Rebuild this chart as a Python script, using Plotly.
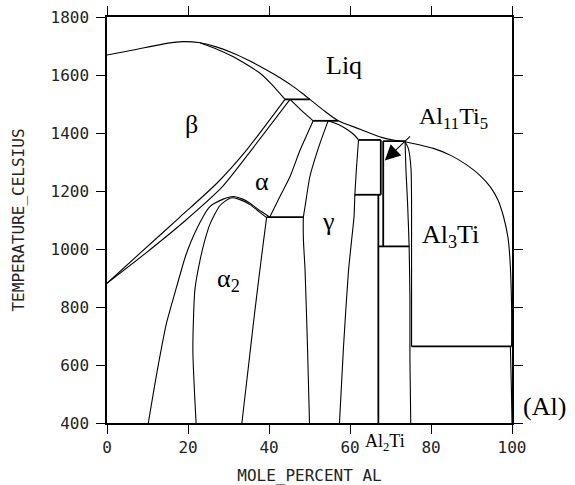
import plotly.graph_objects as go

# ---------------- data (mole % Al, temperature in Celsius) ----------------
liquidus_ti_x = [0, 6.5, 14.7, 18.8, 23.0, 27.0, 31.2, 35.3, 39.4, 43.0, 46.0, 48.2, 50.1]
liquidus_ti_t = [1669, 1686, 1709, 1715, 1711, 1697, 1675, 1648, 1617, 1588, 1560, 1537, 1516]

beta_solidus_x = [23.0, 27.0, 31.2, 34.5, 37.8, 40.5, 43.95]
beta_solidus_t = [1710, 1690, 1663, 1636, 1606, 1570, 1516]

beta_transus_x = [0, 8.5, 18.0, 27.0, 34.5, 43.95]
beta_transus_t = [882, 990, 1110, 1225, 1342, 1516]

alpha_beta_x = [0, 9.5, 19.5, 28.5, 35.7, 45.2]
alpha_beta_t = [882, 985, 1100, 1215, 1342, 1516]

alpha_solidus_x = [45.2, 48.0, 50.9]
alpha_solidus_t = [1516, 1478, 1442]

liquidus_mid_x = [50.1, 53.5, 57.1, 62.5, 67.8, 71.0, 73.6]
liquidus_mid_t = [1516, 1478, 1442, 1413, 1385, 1375, 1370]

liquidus_al_x = [73.6, 80.6, 85.0, 88.8, 92.0, 94.6, 96.5, 97.9, 99.0, 99.5, 99.9, 99.9]
liquidus_al_t = [1370, 1347, 1322, 1290, 1255, 1215, 1170, 1112, 1040, 963, 802, 664]

alpha_gamma_x = [50.9, 49.3, 47.7, 45.2, 42.7, 40.2]
alpha_gamma_t = [1442, 1392, 1342, 1250, 1181, 1110]

gamma_left_x = [54.6, 52.6, 50.1, 48.9, 48.5, 48.5, 48.9, 49.5, 50.0]
gamma_left_t = [1442, 1365, 1250, 1146, 1110, 1032, 928, 664, 400]

gamma_solidus_x = [54.6, 57.0, 59.3, 61.0, 62.1]
gamma_solidus_t = [1442, 1430, 1412, 1394, 1376]

gamma_right_x = [62.1, 61.6, 61.2, 61.0, 60.4, 59.6, 58.4, 57.4]
gamma_right_t = [1376, 1280, 1187, 1112, 1031, 920, 664, 400]

alpha2_outer_x = [10.2, 12.3, 14.7, 17.2, 19.5, 22.0, 25.4, 28.7, 31.2, 33.5, 35.3, 38.0, 40.2]
alpha2_outer_t = [400, 572, 745, 870, 980, 1065, 1146, 1172, 1181, 1172, 1158, 1130, 1110]

alpha2_inner_x = [22.0, 21.2, 21.7, 23.0, 24.2, 25.4, 27.9, 30.5, 32.5, 35.3, 37.6, 39.4]
alpha2_inner_t = [400, 653, 859, 963, 1032, 1085, 1150, 1176, 1172, 1153, 1128, 1108]

alpha2_gamma_x = [39.4, 38.4, 37.5, 36.2, 34.8, 33.3]
alpha2_gamma_t = [1108, 1000, 900, 750, 580, 400]

al3ti_left_x = [73.6, 73.8, 74.2, 74.6, 74.8, 74.8, 75.0]
al3ti_left_t = [1370, 1278, 1163, 1009, 824, 618, 400]

al3ti_right_x = [73.6, 74.4, 75.06, 75.2, 75.2]
al3ti_right_t = [1370, 1347, 1278, 1163, 664]

al_solvus_x = [99.6, 99.85, 100.0]
al_solvus_t = [664, 520, 400]

# straight invariant lines and compound lines: (x0, x1, t0, t1)
invariant_segments = [
    (43.95, 50.1, 1516, 1516),   # upper peritectic
    (50.9, 57.1, 1442, 1442),    # lower peritectic
    (39.4, 48.5, 1110, 1110),    # eutectoid
    (62.1, 67.6, 1376, 1376),    # box top
    (61.2, 67.6, 1187, 1187),    # box bottom
    (67.6, 67.6, 1376, 1187),    # box right
    (68.2, 73.6, 1372, 1372),    # Al11Ti5 top
    (68.2, 68.2, 1372, 1009),    # Al11Ti5 left
    (67.0, 74.6, 1009, 1009),    # Al11Ti5 bottom
    (67.0, 67.0, 1187, 400),     # Al2Ti
    (75.2, 99.9, 664, 664),      # Al eutectic/peritectic
]

x_ticks = [0, 20, 40, 60, 80, 100]
y_ticks = [400, 600, 800, 1000, 1200, 1400, 1600, 1800]

phase_labels = ["Liq", "β", "α", "α<sub>2</sub>", "γ", "Al<sub>3</sub>Ti"]
phase_label_x = [58.4, 20.9, 38.2, 30.0, 54.6, 84.7]
phase_label_t = [1632, 1428, 1233, 894, 1094, 1045]

# ---------------- figure ----------------
fig = go.Figure()

curves = [
    (liquidus_ti_x, liquidus_ti_t),
    (beta_solidus_x, beta_solidus_t),
    (beta_transus_x, beta_transus_t),
    (alpha_beta_x, alpha_beta_t),
    (alpha_solidus_x, alpha_solidus_t),
    (liquidus_mid_x, liquidus_mid_t),
    (liquidus_al_x, liquidus_al_t),
    (alpha_gamma_x, alpha_gamma_t),
    (gamma_left_x, gamma_left_t),
    (gamma_solidus_x, gamma_solidus_t),
    (gamma_right_x, gamma_right_t),
    (alpha2_outer_x, alpha2_outer_t),
    (alpha2_inner_x, alpha2_inner_t),
    (alpha2_gamma_x, alpha2_gamma_t),
    (al3ti_left_x, al3ti_left_t),
    (al3ti_right_x, al3ti_right_t),
    (al_solvus_x, al_solvus_t),
]
for cx, ct in curves:
    fig.add_trace(go.Scatter(x=cx, y=ct, mode="lines",
                             line=dict(color="black", width=1.1, shape="spline", smoothing=0.6),
                             hoverinfo="skip", showlegend=False))

for x0, x1, t0, t1 in invariant_segments:
    fig.add_trace(go.Scatter(x=[x0, x1], y=[t0, t1], mode="lines",
                             line=dict(color="black", width=1.8),
                             hoverinfo="skip", showlegend=False))

serif = "Liberation Serif, Times New Roman, serif"
for txt, lx, lt in zip(phase_labels, phase_label_x, phase_label_t):
    fig.add_annotation(x=lx, y=lt, text=txt, showarrow=False,
                       font=dict(family=serif, size=26, color="black"))

# Al11Ti5 label with arrow
fig.add_annotation(x=85.5, y=1452, text="Al<sub>11</sub>Ti<sub>5</sub>", showarrow=False,
                   font=dict(family=serif, size=24, color="black"))
fig.add_annotation(x=68.6, y=1305, ax=75.2, ay=1393, axref="x", ayref="y",
                   text="", showarrow=True, arrowhead=2, arrowsize=2.8,
                   arrowwidth=1.1, arrowcolor="black")
# labels outside the plotting area
fig.add_annotation(x=1.022, y=0.041, xref="paper", yref="paper", xanchor="left",
                   yanchor="middle", text="(Al)", showarrow=False,
                   font=dict(family=serif, size=26, color="black"))
fig.add_annotation(x=0.686, y=-0.047, xref="paper", yref="paper", xanchor="center",
                   yanchor="middle", text="Al<sub>2</sub>Ti",
                   showarrow=False, font=dict(family=serif, size=18, color="black"))

mono = "DejaVu Sans Mono, monospace"
axis_common = dict(showgrid=False, zeroline=False, showline=True, linecolor="black",
                   linewidth=1.5, mirror="allticks", ticks="outside", ticklen=9,
                   tickwidth=1.2, tickcolor="black", automargin=False)

fig.update_xaxes(range=[0, 100], tickvals=x_ticks, ticktext=[str(v) for v in x_ticks],
                 tickfont=dict(family=mono, size=16, color="#222"), ticklabelstandoff=0,
                 title=dict(text="MOLE_PERCENT AL", font=dict(family=mono, size=16, color="#222"),
                            standoff=19),
                 **axis_common)
fig.update_yaxes(range=[400, 1800], tickvals=y_ticks, ticktext=[str(v) for v in y_ticks],
                 tickfont=dict(family=mono, size=16, color="#222"), ticklabelstandoff=4,
                 title=dict(text="TEMPERATURE_CELSIUS", font=dict(family=mono, size=16, color="#222"),
                            standoff=22),
                 **axis_common)

fig.update_layout(width=575, height=485, margin=dict(l=107, r=63, t=17, b=62),
                  plot_bgcolor="white", paper_bgcolor="white", showlegend=False)

fig.write_html("out.html")
